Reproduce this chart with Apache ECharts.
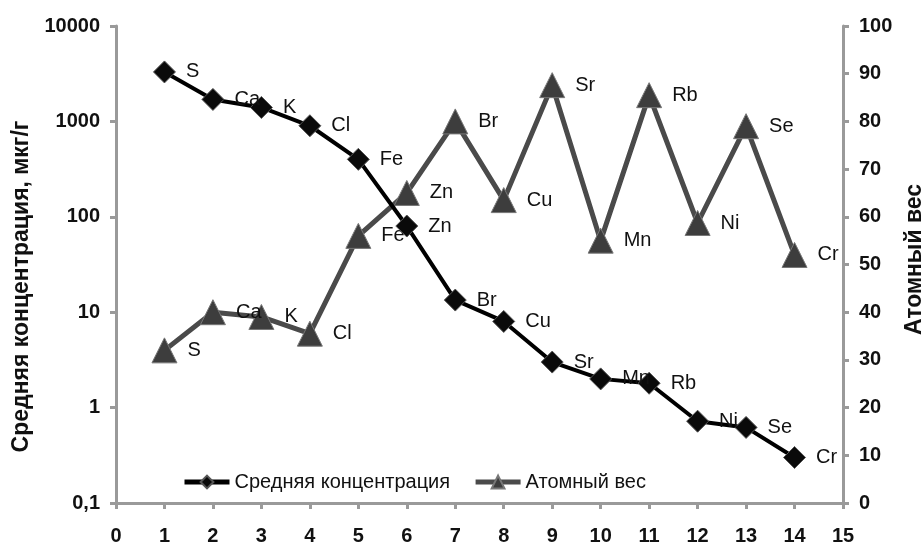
<!DOCTYPE html>
<html><head><meta charset="utf-8">
<script src="https://cdn.jsdelivr.net/npm/echarts@6/dist/echarts.min.js"></script>
<style>html,body{margin:0;padding:0;background:#fff}#c{width:922px;height:542px}</style>
</head><body><div id="c"></div>
<script>
const xPositions = [1,2,3,4,5,6,7,8,9,10,11,12,13,14];
const elements = ['S','Ca','K','Cl','Fe','Zn','Br','Cu','Sr','Mn','Rb','Ni','Se','Cr'];
const concentration = [3300,1700,1400,900,400,80,13.4,8,3,2,1.8,0.72,0.62,0.3];
const atomicWeight = [32,40,39,35.5,56,65,80,63.5,87.6,55,85.5,58.7,79,52];
const leftTicks = ['0,1','1','10','100','1000','10000'];

const chart = echarts.init(document.getElementById('c'));
const font = 'Liberation Sans, Arial, sans-serif';
const axisCol = '#9a9a9a';
const lbl = {show:true, position:'right', distance:10, color:'#111', fontSize:20, fontFamily:font,
  formatter: p => elements[p.dataIndex]};
chart.setOption({
  animation:false,
  grid:{left:116, right:79, top:26, bottom:39, outerBoundsMode:'none', containLabel:false},
  legend:{
    data:['Средняя концентрация','Атомный вес'],
    left:177, top:467, itemWidth:45, itemHeight:16, itemGap:23,
    lineStyle:{width:5},
    textStyle:{fontSize:20, fontFamily:font, color:'#111'}
  },
  xAxis:{type:'value', min:0, max:15, interval:1,
    axisLine:{lineStyle:{color:axisCol, width:3}},
    axisTick:{show:true, length:6, lineStyle:{color:axisCol, width:3}},
    splitLine:{show:false},
    axisLabel:{margin:23, fontSize:20, fontWeight:'bold', color:'#111', fontFamily:font}
  },
  yAxis:[
    {type:'log', logBase:10, min:0.1, max:10000, position:'left',
      name:'Средняя концентрация, мкг/г', nameLocation:'middle', nameGap:81,
      nameTextStyle:{fontSize:23, fontWeight:'bold', color:'#111', fontFamily:font, padding:[0,44,0,0]},
      axisLine:{show:true, lineStyle:{color:axisCol, width:3}},
      axisTick:{show:true, length:6, lineStyle:{color:axisCol, width:3}},
      splitLine:{show:false}, minorTick:{show:false},
      axisLabel:{margin:16, fontSize:20, fontWeight:'bold', color:'#111', fontFamily:font,
        formatter: v => { const e = Math.round(Math.log10(v)); return leftTicks[e+1]; }}
    },
    {type:'value', min:0, max:100, interval:10, position:'right',
      name:'Атомный вес', nameLocation:'middle', nameGap:60, nameRotate:90,
      nameTextStyle:{fontSize:23, fontWeight:'bold', color:'#111', fontFamily:font, padding:[0,0,0,10]},
      axisLine:{show:true, lineStyle:{color:axisCol, width:3}},
      axisTick:{show:true, length:6, lineStyle:{color:axisCol, width:3}},
      splitLine:{show:false},
      axisLabel:{margin:16, fontSize:20, fontWeight:'bold', color:'#111', fontFamily:font}
    }
  ],
  series:[
    {name:'Средняя концентрация', type:'line', yAxisIndex:0,
      data: xPositions.map((x,i)=>[x, concentration[i]]),
      symbol:'diamond', symbolSize:22, z:3,
      lineStyle:{color:'#000', width:4},
      itemStyle:{color:'#0a0a0a', borderColor:'#555', borderWidth:1},
      label:lbl},
    {name:'Атомный вес', type:'line', yAxisIndex:1,
      data: xPositions.map((x,i)=>[x, atomicWeight[i]]),
      symbol:'triangle', symbolSize:25, z:2,
      lineStyle:{color:'#4a4a4a', width:5},
      itemStyle:{color:'#3d3d3d', borderColor:'#777', borderWidth:1},
      label:lbl}
  ]
});
</script></body></html>
